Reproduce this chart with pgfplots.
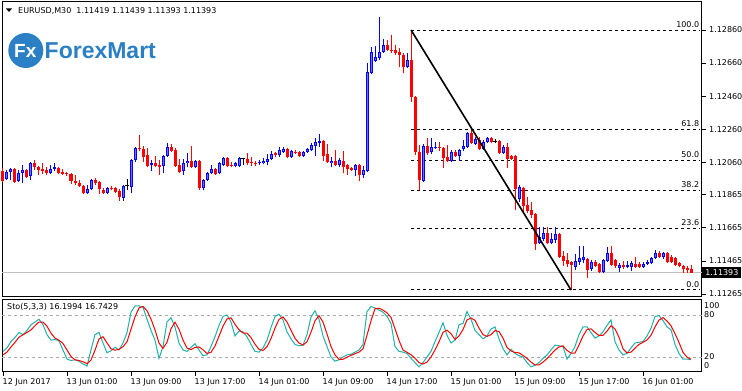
\documentclass[border=0pt]{standalone}
\usepackage{fontspec}
\setmainfont{DejaVu Sans}
\newfontfamily\logofont{Liberation Sans}
\usepackage{pgfplots}
\usepackage{pgfplotstable}
\pgfplotsset{compat=1.18}
\definecolor{mtblue}{RGB}{0,0,255}
\definecolor{mtbluein}{RGB}{110,110,255}
\definecolor{mtred}{RGB}{255,0,0}
\definecolor{stoK}{RGB}{32,178,170}
\definecolor{fxblue}{RGB}{43,127,196}
\definecolor{lvl}{RGB}{170,170,170}
\definecolor{cur}{RGB}{192,192,192}

\pgfplotstableread{
i o h l c
1 1.11960 1.12014 1.11954 1.12002
2 1.12002 1.12026 1.11954 1.12020
4 1.11948 1.12014 1.11942 1.11996
5 1.11996 1.12044 1.11936 1.12014
7 1.11978 1.12062 1.11954 1.12056
12 1.11996 1.12044 1.11990 1.12020
13 1.12020 1.12056 1.12008 1.12032
21 1.11875 1.11924 1.11869 1.11899
22 1.11899 1.11960 1.11893 1.11954
26 1.11875 1.11911 1.11869 1.11905
30 1.11845 1.11924 1.11827 1.11918
32 1.11911 1.12081 1.11875 1.12075
33 1.12075 1.12153 1.12063 1.12147
37 1.12044 1.12075 1.12008 1.12056
40 1.12038 1.12105 1.11996 1.12099
41 1.12099 1.12177 1.12093 1.12153
45 1.12008 1.12081 1.11984 1.12056
46 1.12056 1.12117 1.12032 1.12069
48 1.12032 1.12075 1.12026 1.12069
50 1.11905 1.11960 1.11893 1.11954
51 1.11954 1.12002 1.11948 1.11996
52 1.11996 1.12044 1.11990 1.12020
54 1.11996 1.12062 1.11990 1.12056
55 1.12044 1.12093 1.12038 1.12087
58 1.12038 1.12062 1.12032 1.12056
59 1.12038 1.12093 1.12032 1.12087
64 1.12056 1.12075 1.12044 1.12062
65 1.12056 1.12087 1.12050 1.12069
66 1.12062 1.12111 1.12044 1.12081
67 1.12081 1.12129 1.12075 1.12111
69 1.12105 1.12153 1.12093 1.12135
70 1.12123 1.12153 1.12117 1.12141
72 1.12093 1.12135 1.12087 1.12129
75 1.12099 1.12129 1.12093 1.12123
76 1.12123 1.12147 1.12117 1.12141
77 1.12135 1.12177 1.12129 1.12165
78 1.12159 1.12208 1.12099 1.12183
79 1.12177 1.12232 1.12153 1.12189
82 1.12056 1.12093 1.12032 1.12069
84 1.12044 1.12087 1.12032 1.12075
88 1.12014 1.12050 1.11978 1.12044
90 1.11984 1.12038 1.11966 1.12014
91 1.12008 1.12660 1.12002 1.12606
92 1.12600 1.12757 1.12594 1.12727
93 1.12673 1.12763 1.12667 1.12697
94 1.12691 1.12938 1.12679 1.12727
95 1.12727 1.12806 1.12721 1.12769
101 1.12636 1.12721 1.12630 1.12679
105 1.11948 1.12171 1.11942 1.12159
107 1.12123 1.12208 1.12111 1.12153
108 1.12147 1.12183 1.12141 1.12153
112 1.12069 1.12135 1.12062 1.12123
114 1.12099 1.12141 1.12069 1.12135
115 1.12141 1.12195 1.12129 1.12159
116 1.12153 1.12244 1.12147 1.12238
118 1.12171 1.12214 1.12165 1.12201
120 1.12141 1.12195 1.12135 1.12183
121 1.12183 1.12214 1.12177 1.12208
125 1.12117 1.12165 1.12111 1.12153
129 1.11839 1.11924 1.11821 1.11911
134 1.11573 1.11670 1.11567 1.11609
135 1.11597 1.11670 1.11585 1.11634
137 1.11573 1.11634 1.11567 1.11597
138 1.11591 1.11670 1.11573 1.11628
143 1.11428 1.11507 1.11410 1.11465
144 1.11459 1.11555 1.11440 1.11483
145 1.11471 1.11555 1.11453 1.11489
147 1.11416 1.11471 1.11404 1.11459
150 1.11398 1.11477 1.11392 1.11471
151 1.11465 1.11549 1.11459 1.11513
154 1.11422 1.11453 1.11398 1.11440
156 1.11428 1.11465 1.11422 1.11440
157 1.11428 1.11465 1.11404 1.11453
160 1.11428 1.11459 1.11422 1.11447
161 1.11447 1.11471 1.11440 1.11459
162 1.11453 1.11489 1.11447 1.11483
163 1.11483 1.11531 1.11477 1.11513
165 1.11489 1.11519 1.11477 1.11513
}\up

\pgfplotstableread{
i o h l c
0 1.12008 1.12026 1.11942 1.11948
3 1.12020 1.12026 1.11936 1.11942
6 1.12014 1.12020 1.11966 1.11972
8 1.12056 1.12075 1.12014 1.12032
9 1.12032 1.12038 1.11984 1.12014
10 1.12020 1.12056 1.11990 1.12008
11 1.12014 1.12032 1.11984 1.11996
14 1.12026 1.12032 1.11990 1.11996
15 1.12002 1.12020 1.11984 1.11990
16 1.11996 1.12002 1.11978 1.11990
17 1.11990 1.11996 1.11930 1.11948
18 1.11948 1.11984 1.11924 1.11936
19 1.11936 1.11954 1.11912 1.11918
20 1.11918 1.11924 1.11869 1.11875
23 1.11954 1.11966 1.11924 1.11936
24 1.11942 1.11948 1.11869 1.11899
25 1.11893 1.11905 1.11869 1.11875
27 1.11905 1.11917 1.11893 1.11899
28 1.11905 1.11911 1.11875 1.11881
29 1.11887 1.11899 1.11827 1.11851
34 1.12147 1.12226 1.12129 1.12141
35 1.12141 1.12159 1.12063 1.12093
36 1.12105 1.12147 1.12032 1.12038
38 1.12056 1.12099 1.12032 1.12038
39 1.12044 1.12075 1.11984 1.12032
42 1.12153 1.12171 1.12123 1.12129
43 1.12135 1.12147 1.12032 1.12038
44 1.12044 1.12081 1.11996 1.12002
47 1.12069 1.12159 1.12026 1.12032
49 1.12069 1.12075 1.11893 1.11905
53 1.12020 1.12026 1.11984 1.11990
56 1.12087 1.12093 1.12032 1.12038
57 1.12044 1.12062 1.12032 1.12038
61 1.12081 1.12117 1.12044 1.12056
62 1.12062 1.12093 1.12038 1.12056
63 1.12056 1.12069 1.12038 1.12050
68 1.12117 1.12123 1.12093 1.12105
71 1.12141 1.12147 1.12087 1.12093
73 1.12123 1.12135 1.12111 1.12117
74 1.12123 1.12129 1.12093 1.12099
80 1.12189 1.12195 1.12069 1.12099
81 1.12111 1.12171 1.12056 1.12062
83 1.12069 1.12135 1.12038 1.12044
85 1.12069 1.12129 1.11996 1.12032
86 1.12044 1.12050 1.11984 1.12020
87 1.12026 1.12032 1.12008 1.12014
89 1.12044 1.12050 1.11948 1.11984
96 1.12769 1.12800 1.12733 1.12739
97 1.12739 1.12830 1.12721 1.12733
98 1.12739 1.12769 1.12709 1.12721
99 1.12727 1.12751 1.12636 1.12709
100 1.12709 1.12721 1.12600 1.12636
102 1.12679 1.12860 1.12425 1.12455
103 1.12455 1.12461 1.12105 1.12123
104 1.12123 1.12165 1.11893 1.11954
106 1.12159 1.12208 1.12105 1.12117
109 1.12153 1.12183 1.12129 1.12147
110 1.12147 1.12153 1.12026 1.12087
111 1.12093 1.12165 1.12062 1.12069
113 1.12123 1.12135 1.12093 1.12099
117 1.12238 1.12256 1.12171 1.12177
119 1.12195 1.12214 1.12135 1.12141
122 1.12208 1.12214 1.12177 1.12183
124 1.12189 1.12195 1.12111 1.12117
126 1.12153 1.12177 1.12026 1.12081
127 1.12099 1.12105 1.12075 1.12081
128 1.12099 1.12105 1.11773 1.11899
130 1.11905 1.11911 1.11761 1.11797
131 1.11803 1.11851 1.11755 1.11767
132 1.11773 1.11821 1.11724 1.11742
133 1.11748 1.11754 1.11531 1.11567
136 1.11634 1.11670 1.11567 1.11573
139 1.11628 1.11634 1.11483 1.11489
140 1.11495 1.11525 1.11435 1.11465
141 1.11471 1.11513 1.11429 1.11447
142 1.11459 1.11465 1.11290 1.11440
146 1.11477 1.11483 1.11362 1.11410
148 1.11459 1.11471 1.11428 1.11434
149 1.11447 1.11453 1.11392 1.11398
152 1.11513 1.11555 1.11434 1.11440
153 1.11471 1.11477 1.11422 1.11434
155 1.11440 1.11465 1.11416 1.11428
158 1.11447 1.11489 1.11422 1.11428
159 1.11447 1.11459 1.11422 1.11428
164 1.11513 1.11525 1.11483 1.11489
166 1.11513 1.11519 1.11453 1.11459
167 1.11489 1.11501 1.11453 1.11459
168 1.11483 1.11489 1.11434 1.11440
169 1.11453 1.11459 1.11428 1.11434
170 1.11434 1.11440 1.11392 1.11416
171 1.11422 1.11434 1.11392 1.11410
172 1.11419 1.11439 1.11393 1.11393
}\dn

\pgfplotstableread{
i o h l c
31 1.11918 1.11960 1.11893 1.11918
60 1.12081 1.12087 1.12044 1.12081
123 1.12189 1.12201 1.12177 1.12189
}\dj

\pgfplotstableread{
i k d
0 28 23
1 33 27
2 42 34.3
3 48 41
4 55 48.3
5 52 51.7
6 58 55
7 66 58.7
8 70 64.7
9 74 70
10 66 70
11 52 64
12 44 54
13 45 47
14 43 44
15 30 39.3
16 17 30
17 15 20.7
18 16 16
19 14 15
20 10 13.3
21 7 10.3
22 30 15.7
23 52 29.7
24 55 45.7
25 40 49
26 26 40.3
27 29 31.7
28 34 29.7
29 30 31
30 40 34.7
31 55 41.7
32 84 59.7
33 93 77.3
34 93 90
35 91 92.3
36 74 86
37 58 74.3
38 44 58.7
39 18 40
40 35 32.3
41 70 41
42 76 60.3
43 63 69.7
44 40 59.7
45 30 44.3
46 28 32.7
47 34 30.7
48 39 33.7
49 30 34.3
50 22 30.3
51 23 25
52 35 26.7
53 49 35.7
54 65 49.7
55 78 64
56 80 74.3
57 70 76
58 50 66.7
59 57 59
60 56 54.3
61 49 54
62 38 47.7
63 28 38.3
64 27 31
65 33 29.3
66 44 34.7
67 62 46.3
68 78 61.3
69 81 73.7
70 73 77.3
71 56 70
72 46 58.3
73 38 46.7
74 36 40
75 37 37
76 52 41.7
77 77 55.3
78 86 71.7
79 74 79
80 50 70
81 35 53
82 20 35
83 14 23
84 16 16.7
85 20 16.7
86 23 19.7
87 24 22.3
88 27 24.7
89 30 27
90 38 31.7
91 85 51
92 92 71.7
93 90 89
94 87 89.7
95 84 87
96 78 83
97 68 76.7
98 35 60.3
99 28 43.7
100 27 30
101 25 26.7
102 18 23.3
103 12 18.3
104 6 12
105 12 10
106 20 12.7
107 28 20
108 42 30
109 55 41.7
110 69 55.3
111 51 58.3
112 40 53.3
113 44 45
114 66 50
115 68 59.3
116 85 73
117 74 75.7
118 58 72.3
119 52 61.3
120 46 52
121 50 49.3
122 60 52
123 63 57.7
124 46 56.3
125 32 47
126 23 33.7
127 31 28.7
128 25 26.3
129 22 26
130 20 22.3
131 12 18
132 6 12.7
133 8 8.7
134 12 8.7
135 18 12.7
136 23 17.7
137 30 23.7
138 37 30
139 36 34.3
140 35 36
141 17 29.3
142 25 25.7
143 35 25.7
144 52 37.3
145 63 50
146 63 59.3
147 55 60.3
148 47 55
149 50 50.7
150 56 51
151 65 57
152 73 64.7
153 42 60
154 30 48.3
155 23 31.7
156 25 26
157 33 27
158 40 32.7
159 41 38
160 42 41
161 50 44.3
162 61 51
163 78 63
164 79 72.7
165 72 76.3
166 63 71.3
167 59 64.7
168 38 53.3
169 25 40.7
170 17 26.7
171 17 19.7
172 16.1994 16.7429
}\sto

\pgfplotsset{
  every tick label/.append style={font=\fontsize{8}{9.6}\selectfont},
  nomarks/.style={only marks, mark=none, mark size=0pt, mark options={draw=none, fill=none}},
  wick/.style={nomarks, error bars/.cd, y dir=plus, y explicit,
    error mark=none, error bar style={line width=1pt, draw=#1}},
  body/.style={nomarks, error bars/.cd, y dir=plus, y explicit,
    error mark=none, error bar style={line width=3pt, line cap=butt, draw=#1}},
  inner/.style={nomarks, error bars/.cd, y dir=plus, y explicit,
    error mark=none, error bar style={line width=1pt, line cap=butt, draw=#1}},
}

\begin{document}
\begin{tikzpicture}
\path[use as bounding box, fill=white] (0,0) rectangle (742pt,391pt);

% ---------------- main price panel ----------------
\begin{axis}[
  at={(2.5pt,94.5pt)}, anchor=south west,
  width=699pt, height=295pt, scale only axis,
  xmin=-0.125, xmax=174.625,
  ymin=1.1125014, ymax=1.1303194,
  clip=false,
  axis line style={line width=0.9pt},
  xtick=\empty,
  ytick={1.12860,1.12660,1.12460,1.12260,1.12060,1.11865,1.11665,1.11465,1.11265},
  yticklabels={1.12860,1.12660,1.12460,1.12260,1.12060,1.11865,1.11665,1.11465,1.11265},
  ytick pos=right, yticklabel pos=right,
  tick align=outside, major tick length=4pt,
  tick style={black, line width=0.8pt},
  yticklabel style={anchor=west, inner sep=0pt, xshift=3.5pt},
]
% current price line
\addplot[cur, line width=0.8pt] coordinates {(-0.125,1.11393) (174.625,1.11393)};
% Fibonacci levels
\foreach \lv in {1.12860,1.12260,1.12075,1.11890,1.11661,1.11290}{
  \edef\tmp{\noexpand\addplot[black, line width=0.8pt, dash pattern=on 3pt off 3pt] coordinates {(102,\lv) (174.3,\lv)};}
  \tmp
}
% candles
\addplot[wick=mtred] table[x=i, y=l, y error expr=\thisrow{h}-\thisrow{l}] {\dn};
\addplot[body=mtred] table[x=i, y expr={min(\thisrow{o},\thisrow{c})}, y error expr={max(abs(\thisrow{c}-\thisrow{o}),0.00006)}] {\dn};
\addplot[wick=mtblue] table[x=i, y=l, y error expr=\thisrow{h}-\thisrow{l}] {\up};
\addplot[body=mtblue] table[x=i, y expr={min(\thisrow{o},\thisrow{c})}, y error expr={max(abs(\thisrow{c}-\thisrow{o}),0.00006)}] {\up};
\addplot[inner=mtbluein] table[x=i, y expr={min(\thisrow{o},\thisrow{c})+0.00006}, y error expr={max(abs(\thisrow{c}-\thisrow{o})-0.00012,0)}] {\up};
\addplot[wick=black] table[x=i, y=l, y error expr=\thisrow{h}-\thisrow{l}] {\dj};
\addplot[only marks, mark=-, mark size=2pt, black, mark options={line width=1pt}] table[x=i, y=o] {\dj};
% trend line
\addplot[black, line width=1.6pt] coordinates {(102,1.12860) (142,1.11290)};
% fib labels
\foreach \lv/\tx in {1.12860/100.0,1.12260/61.8,1.12075/50.0,1.11890/38.2,1.11661/23.6,1.11290/0.0}{
  \edef\tmp{\noexpand\node[anchor=south east, inner sep=0pt, font=\noexpand\fontsize{8}{9.6}\noexpand\selectfont, yshift=2.5pt] at (axis cs:174.1,\lv) {\tx};}
  \tmp
}
% current price box
\node[fill=black, text=white, anchor=west, inner xsep=3pt, inner ysep=2.5pt, font=\fontsize{8}{9.6}\selectfont] at (axis cs:174.625,1.11393) [xshift=0.6pt] {1.11393};
\end{axis}

% ---------------- stochastic panel ----------------
\begin{axis}[
  at={(2.5pt,19.5pt)}, anchor=south west,
  width=699pt, height=72.5pt, scale only axis,
  xmin=-0.125, xmax=174.625,
  ymin=-0.71, ymax=102.86,
  clip=false,
  axis line style={line width=0.9pt},
  ytick={20,80}, yticklabels={20,80},
  ytick pos=right, yticklabel pos=right,
  xtick={0,16,32,48,64,80,96,112,128,144,160},
  xticklabels={12 Jun 2017,13 Jun 01:00,13 Jun 09:00,13 Jun 17:00,14 Jun 01:00,14 Jun 09:00,14 Jun 17:00,15 Jun 01:00,15 Jun 09:00,15 Jun 17:00,16 Jun 01:00},
  xtick pos=bottom, xticklabel pos=lower,
  tick align=outside, major tick length=4pt,
  tick style={black, line width=0.8pt},
  ytick style={draw=none},
  yticklabel style={anchor=west, inner sep=0pt, xshift=-1.5pt},
  xticklabel style={anchor=north west, inner sep=0pt, xshift=-0.5pt, yshift=-2.5pt},
]
\addplot[lvl, line width=0.8pt, dash pattern=on 3pt off 3pt] coordinates {(-0.125,80) (174.625,80)};
\addplot[lvl, line width=0.8pt, dash pattern=on 3pt off 3pt] coordinates {(-0.125,20) (174.625,20)};
\addplot[stoK, line width=1pt] table[x=i, y=k] {\sto};
\addplot[mtred, line width=1pt] table[x=i, y=d] {\sto};
\node[anchor=west, inner sep=0pt, font=\fontsize{8}{9.6}\selectfont] at (axis cs:174.625,92.9) [xshift=2.5pt] {100};
\node[anchor=west, inner sep=0pt, font=\fontsize{8}{9.6}\selectfont] at (axis cs:174.625,7.6) [xshift=2.5pt] {0};
\end{axis}

% ---------------- texts and logo ----------------
\fill[black] (6pt,382.5pt) -- (12pt,382.5pt) -- (9pt,379pt) -- cycle;
\node[anchor=west, inner sep=0pt, font=\fontsize{8}{9.6}\selectfont] at (18pt,380.3pt) {EURUSD,M30\ \ 1.11419 1.11439 1.11393 1.11393};
\node[anchor=west, inner sep=0pt, font=\fontsize{8}{9.6}\selectfont] at (7pt,84pt) {Sto(5,3,3) 16.1994 16.7429};
\fill[fxblue] (25.8pt,340.5pt) circle (17.5pt);
\node[text=white, inner sep=0pt, font=\logofont\bfseries\fontsize{19}{19}\selectfont] at (25.3pt,340pt) {Fx};
\node[anchor=west, inner sep=0pt, text=fxblue, font=\logofont\bfseries\fontsize{23}{23}\selectfont] at (44.5pt,340pt) {ForexMart};
\end{tikzpicture}
\end{document}
